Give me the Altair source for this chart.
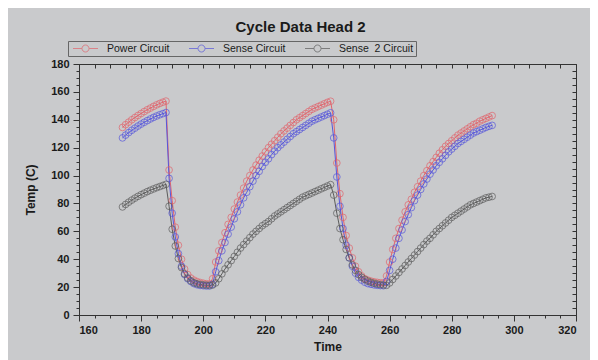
import altair as alt
import pandas as pd

# ---- data ----
times = list(range(174, 294))

power = [
    134.5, 136.5, 138.3, 140, 141.6, 143.1, 144.5, 145.9, 147.2, 148.4, 149.6, 150.7, 151.7, 152.6, 153.4,
    104, 82, 63, 50, 40, 33, 29, 26.5, 25, 24, 23.3, 22.8, 22.4, 22.2,
    26, 38, 46, 52, 59, 65, 70, 76, 81, 86, 91, 96, 100, 104, 107.5, 111, 114, 117, 120, 122.5,
    125, 127.5, 130, 132, 134, 136, 138, 140, 141.5, 143, 144.5, 146, 147.5, 148.5, 149.5, 150.5, 151.5, 152.5, 153.3,
    140, 109, 87, 70, 57, 48, 41, 35, 31, 28, 26, 25, 24.3, 23.8, 23.4, 23.1, 23,
    28, 38, 47, 55, 62, 68, 74, 79, 83, 88, 92, 96, 100, 103.5, 107, 110, 113, 116, 118.5, 121,
    123, 125, 127, 129, 130.5, 132, 133.5, 135, 136.5, 137.5, 139, 140, 141, 142, 143,
]

sense = [
    127, 129, 130.8, 132.5, 134, 135.5, 136.9, 138.2, 139.4, 140.6, 141.7, 142.7, 143.6, 144.4, 145.2,
    98, 73, 56, 44, 35, 29, 26, 24, 22.5, 21.7, 21.2, 21, 20.8, 20.8,
    22, 31, 39, 46, 52, 58, 63, 69, 74, 79, 84, 88, 92, 96, 100, 103, 106.5, 109.5, 112, 115,
    117.5, 120, 122, 124, 126, 128, 130, 131.5, 133, 134.5, 136, 137.5, 139, 140, 141, 142, 143, 144, 145,
    127, 99, 78, 62, 50, 41, 35, 30, 27, 25, 23.5, 22.5, 22, 21.6, 21.3, 21.1, 21,
    24, 32, 40, 48, 55, 61, 67, 72, 77, 82, 86, 90, 94, 97.5, 101, 104, 107, 109.5, 112, 114.5,
    117, 119, 121, 123, 124.5, 126, 127.5, 129, 130.5, 131.5, 132.5, 133.5, 134.5, 135.3, 136,
]

sense2 = [
    77.5, 79.3, 80.9, 82.4, 83.8, 85.1, 86.3, 87.4, 88.5, 89.5, 90.4, 91.3, 92.1, 92.9, 93.7,
    78, 61.5, 49.5, 40.5, 34, 29.5, 26.5, 24.5, 23.2, 22.4, 21.9, 21.6, 21.4, 21.3,
    21.5, 23, 26, 29.5, 33, 36, 39, 42, 45, 48, 50.5, 53, 55.5, 58, 60, 62, 64, 65.5, 67, 69,
    71, 72.5, 74, 75.5, 77, 78.5, 80, 81.5, 83, 84.5, 85.5, 86.5, 87.5, 88.5, 89.5, 90.5, 91.5, 92.5, 93.5,
    86, 73, 62, 54, 47, 41, 36, 32, 29, 27, 25.5, 24.3, 23.4, 22.7, 22.2, 21.8, 21.5, 21.3,
    23, 25.5, 28, 30.5, 33, 35.5, 38, 40.5, 43, 45.5, 48, 50.5, 53, 55, 57.5, 60, 62, 64, 66, 68,
    70, 71.5, 73, 74.5, 76, 77.5, 79, 80, 81, 82, 83, 84, 84.5, 85,
]

series_names = ["Power Circuit", "Sense Circuit", "Sense\u00a0 2 Circuit"]
series_colors = ["#e2646c", "#5656dc", "#5c5c5c"]

x_ticks = list(range(160, 321, 5))
y_ticks = list(range(0, 181, 5))

rows = []
for name, vals in zip(series_names, [power, sense, sense2]):
    for t, v in zip(times, vals):
        rows.append({"Time": t, "Temp": v, "Series": name})
df = pd.DataFrame(rows)

BG = "#c9cacc"
FONT = "Liberation Sans"
INK = "#1a1a1a"

major20 = "datum.value % 20 === 0"

legend = alt.Legend(
    title=None,
    orient="none",
    legendX=-11,
    legendY=-23,
    direction="horizontal",
    strokeColor="#666666",
    fillColor=BG,
    padding=2,
    symbolType="M-2.5,0H-0.7M0.7,0H2.5M-0.7,0A0.7,0.7,0,1,0,0.7,0A0.7,0.7,0,1,0,-0.7,0",
    symbolSize=100,
    symbolStrokeWidth=1,
    symbolFillColor="transparent",
    symbolOffset=10,
    labelOffset=16,
    columnPadding=16,
    labelFont=FONT,
    labelFontSize=10.5,
    labelColor=INK,
)

color = alt.Color(
    "Series:N",
    sort=series_names,
    scale=alt.Scale(domain=series_names, range=series_colors),
    legend=legend,
)

xscale = alt.Scale(domain=[160, 320], nice=False, zero=False)
yscale = alt.Scale(domain=[0, 180], nice=False, zero=True)

base = alt.Chart(df)

lines = base.mark_line(strokeWidth=1).encode(
    x=alt.X(
        "Time:Q",
        scale=xscale,
        axis=alt.Axis(
            orient="bottom",
            values=x_ticks,
            labelExpr=f"{major20} ? datum.label : ''",
            labelOverlap=False,
            tickSize={"condition": {"test": major20, "value": 6}, "value": 3},
            labelPadding=3,
            title="Time",
            titlePadding=6,
        ),
    ),
    y=alt.Y(
        "Temp:Q",
        scale=yscale,
        axis=alt.Axis(
            orient="left",
            values=y_ticks,
            labelExpr=f"{major20} ? datum.label : ''",
            labelOverlap=False,
            tickSize={"condition": {"test": major20, "value": 6}, "value": 3},
            labelPadding=4,
            title="Temp (C)",
            titlePadding=13,
        ),
    ),
    color=color,
)

points = base.mark_point(shape="circle", filled=False, size=45, strokeWidth=1).encode(
    x=alt.X(
        "Time:Q",
        scale=xscale,
        axis=alt.Axis(orient="top", values=x_ticks, labels=False, title=None,
                      domain=False, tickSize=4, offset=-4),
    ),
    y=alt.Y(
        "Temp:Q",
        scale=yscale,
        axis=alt.Axis(orient="right", values=y_ticks, labels=False, title=None,
                      domain=False, tickSize=4, offset=-4),
    ),
    color=color,
)

chart = (
    alt.layer(lines, points)
    .resolve_axis(x="independent", y="independent")
    .properties(
        width=497,
        height=251,
        title=alt.TitleParams(
            "Cycle Data Head 2",
            font=FONT,
            fontSize=15,
            fontWeight="bold",
            color=INK,
            anchor="middle",
            frame="bounds",
            offset=6,
        ),
        background=BG,
        padding={"left": 71, "top": 56, "right": 14, "bottom": 45},
        autosize=alt.AutoSizeParams(type="none"),
    )
    .configure_view(stroke="#333333", strokeWidth=1, fill=BG)
    .configure_axis(
        labelFont=FONT,
        labelFontSize=11,
        labelFontWeight="bold",
        labelColor=INK,
        titleFont=FONT,
        titleFontSize=12,
        titleFontWeight="bold",
        titleColor=INK,
        domainColor="#333333",
        tickColor="#333333",
        grid=False,
    )
)

chart.save("out.html", embed_options={"renderer": "svg", "actions": False})
